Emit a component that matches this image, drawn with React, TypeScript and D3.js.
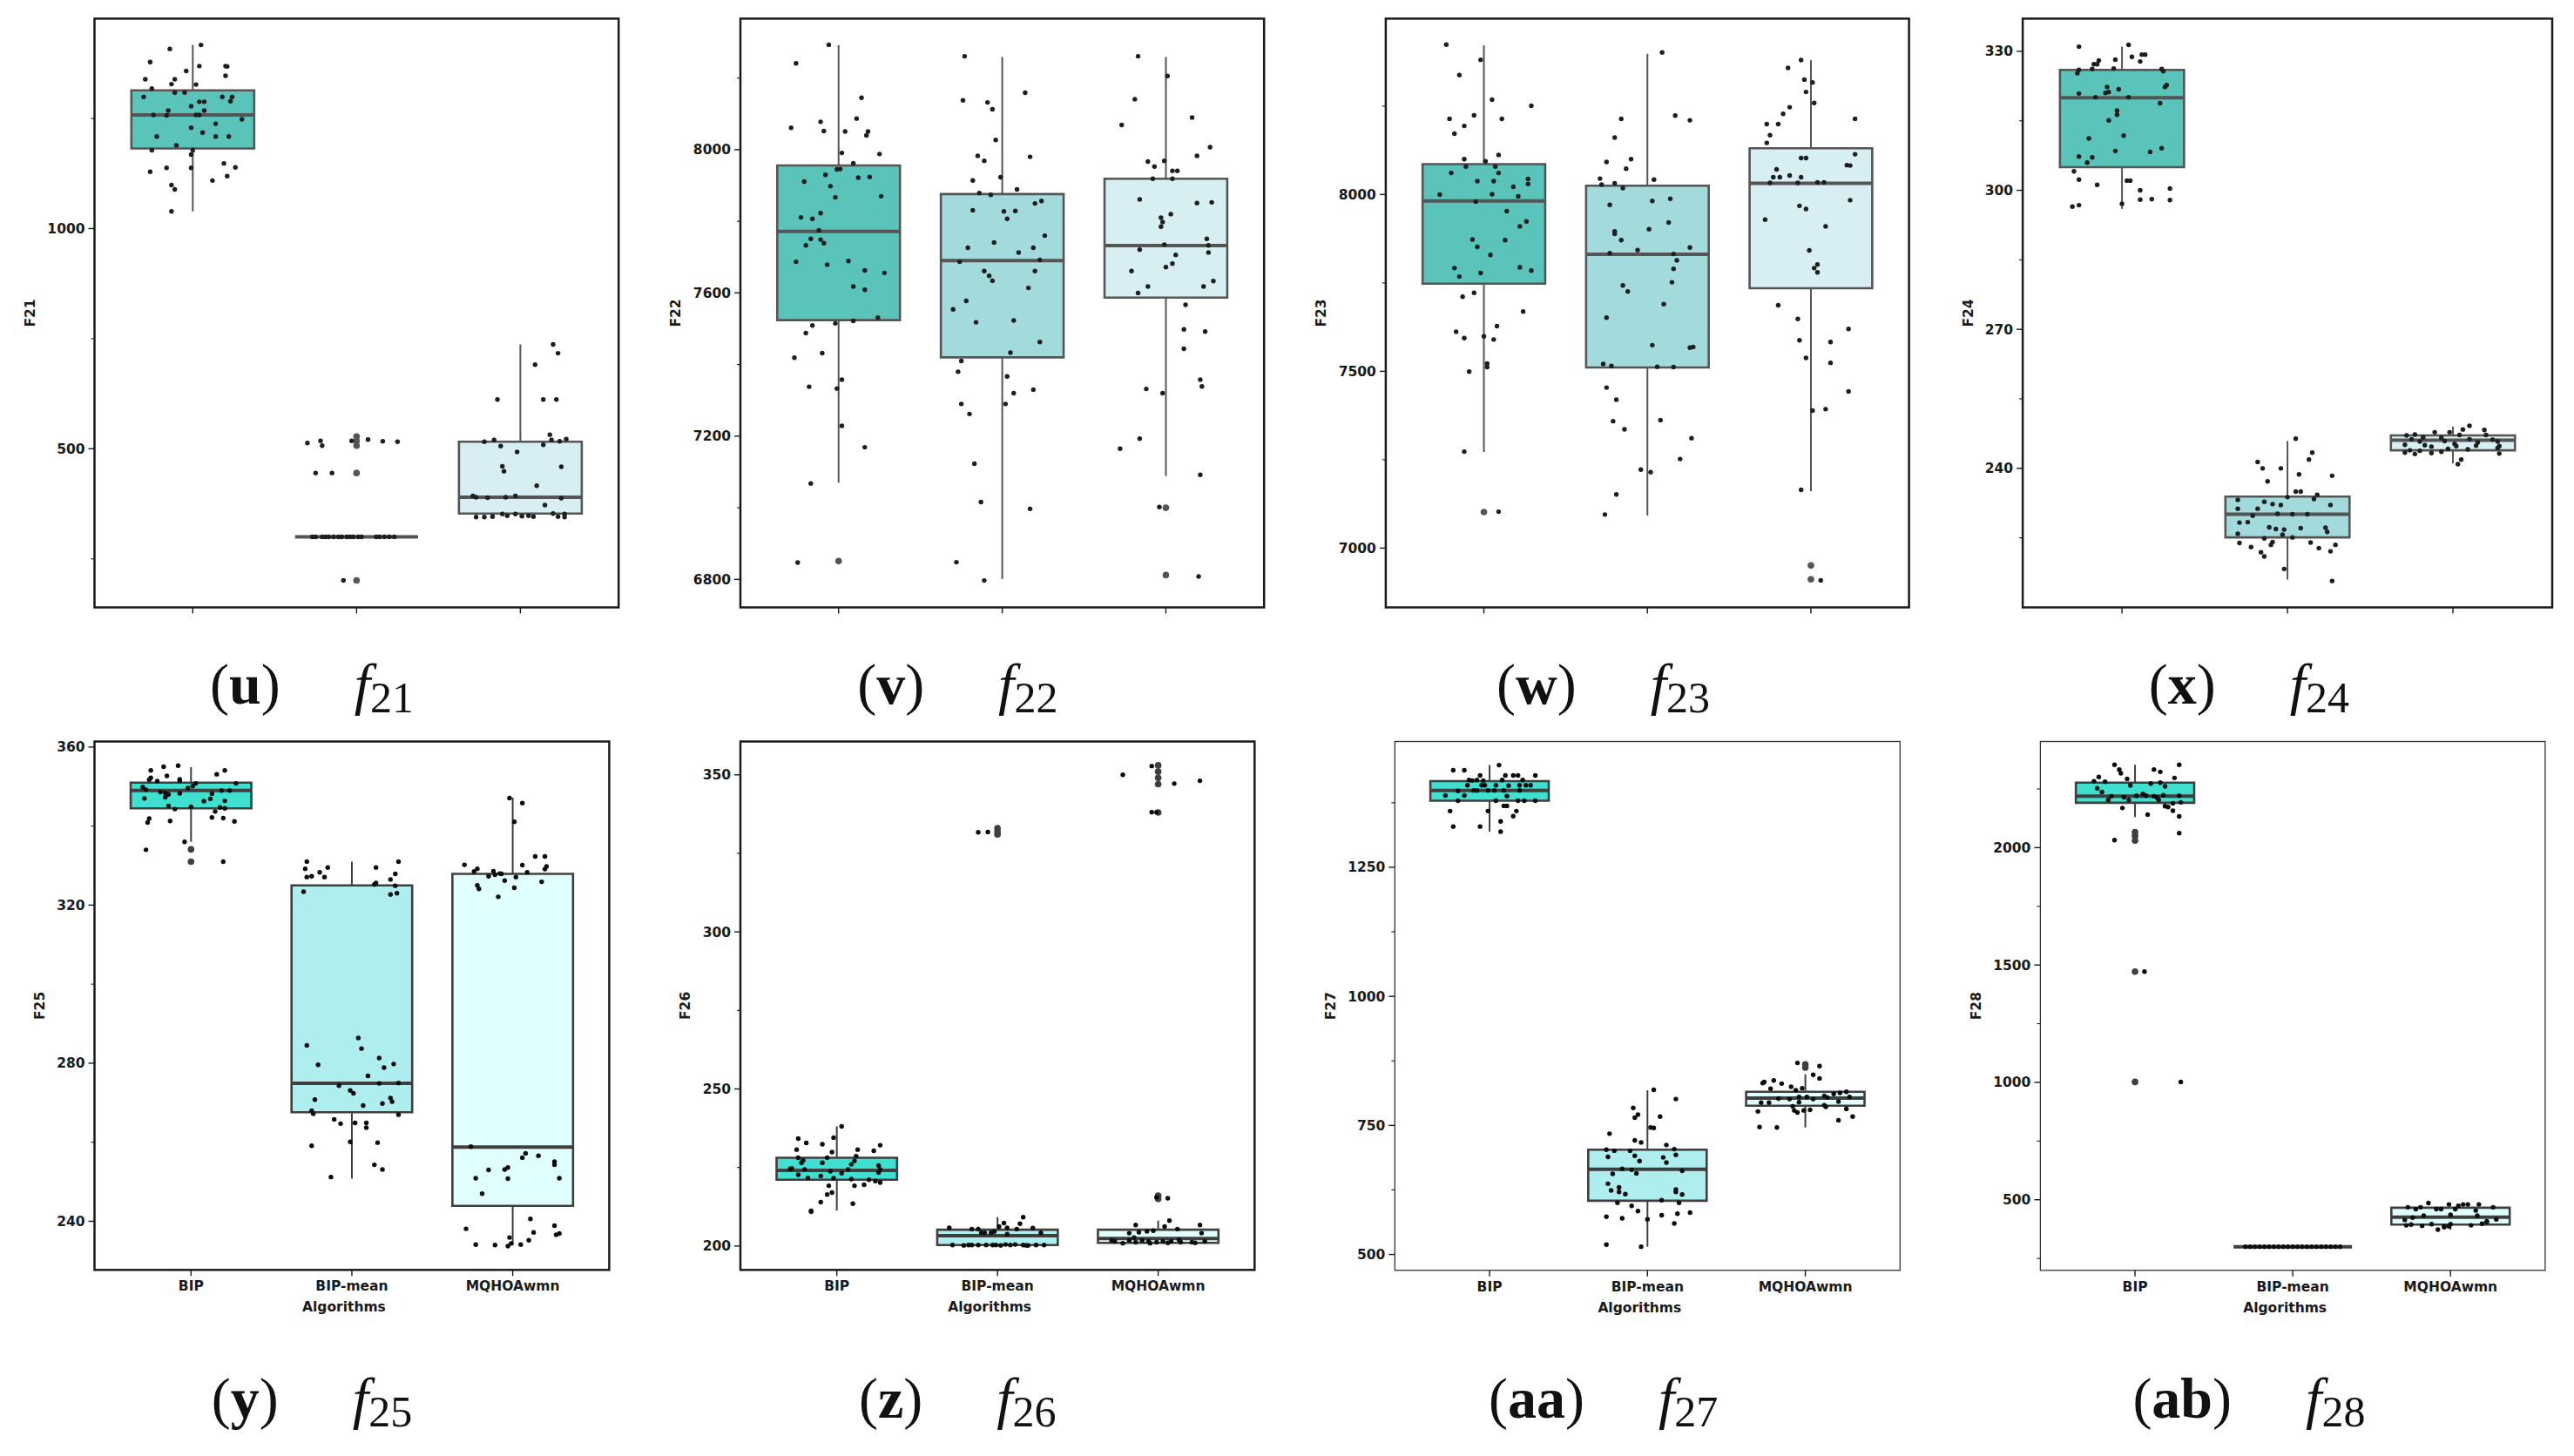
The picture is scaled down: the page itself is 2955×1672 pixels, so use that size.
import React from 'react';
import * as d3 from 'd3';

type Pt = [number, number]; // [jitter in category units, value]

const CATEGORIES = ['BIP', 'BIP-mean', 'MQHOAwmn'];

// ---------- f21 ----------
const f21_BIP: Pt[] = [[0.05,1417],[-0.14,1408],[-0.26,1378],[0.04,1369],[0.2,1369],[0.21,1368],[-0.04,1358],[0.2,1347],[-0.29,1339],[-0.11,1339],[-0.13,1328],[0.02,1327],[-0.25,1318],[-0.11,1309],[-0.05,1309],[-0.3,1299],[0.18,1299],[0.24,1299],[0.23,1289],[0.04,1288],[0.07,1288],[-0.01,1278],[0.07,1268],[-0.15,1268],[-0.24,1258],[-0.16,1257],[0.02,1258],[0.04,1258],[0.3,1248],[0.14,1238],[-0.01,1229],[0.06,1218],[-0.22,1209],[0.14,1209],[0.22,1209],[-0.1,1189],[-0.25,1178],[0,1178],[-0.01,1168],[0.19,1148],[-0.16,1138],[-0.01,1138],[0.26,1139],[-0.26,1129],[0.21,1119],[0.12,1109],[-0.13,1099],[-0.11,1089],[-0.13,1039]];
const f21_MEAN: Pt[] = [[-0.3,513],[-0.22,518],[-0.21,507],[-0.03,518],[0.07,521],[0.16,517],[0.25,516],[-0.25,445],[-0.15,445],[-0.08,201],[-0.27,300],[-0.25,300],[-0.21,300],[-0.19,300],[-0.17,300],[-0.14,300],[-0.11,300],[-0.09,300],[-0.06,300],[-0.04,300],[-0.02,300],[0.01,300],[0.03,300],[0.12,300],[0.14,300],[0.17,300],[0.2,300],[0.23,300]];
const f21_MQ: Pt[] = [[0.2,737],[0.23,717],[0.09,691],[-0.14,612],[0.14,612],[0.22,612],[-0.22,516],[-0.16,520],[-0.12,506],[0.18,532],[0.19,520],[0.24,517],[0.28,522],[0.14,509],[-0.02,493],[-0.11,460],[-0.1,449],[0.25,459],[0.1,416],[-0.29,393],[-0.27,390],[-0.2,389],[-0.09,390],[-0.03,393],[0.25,388],[0.15,372],[-0.27,345],[-0.22,345],[-0.17,346],[-0.11,352],[-0.08,348],[-0.03,352],[0.01,347],[0.05,348],[0.08,346],[0.2,353],[0.23,346],[0.27,352],[0.27,345]];
const f21_box = [[1039,1182,1258,1314,1417],[300,300,300,300,300],[345,353,390,516,737]];
const f21_fliers = [[], [528,518,507,445,201], []];
const f21_domain = [139.8, 1476.7];
const f21_major = [500, 1000];
const f21_minor = [250, 750, 1250];

// ---------- f22 ----------
const f22_BIP: Pt[] = [[-0.06,8293],[-0.26,8241],[0.14,8145],[-0.29,8061],[-0.11,8078],[0.11,8087],[-0.09,8052],[0.04,8051],[0.18,8051],[0.17,8040],[0.02,7991],[0.25,7988],[-0.01,7945],[0.01,7946],[0.09,7962],[-0.21,7911],[-0.08,7930],[0.12,7922],[0.19,7924],[-0.05,7898],[-0.02,7867],[0.26,7870],[-0.23,7811],[-0.16,7807],[-0.11,7823],[-0.12,7775],[-0.2,7733],[-0.17,7751],[-0.11,7749],[-0.09,7739],[-0.26,7687],[-0.07,7679],[0.06,7689],[0.16,7663],[0.28,7656],[0.09,7618],[0.16,7609],[0.24,7531],[-0.02,7515],[0.09,7522],[-0.16,7509],[-0.2,7488],[-0.1,7432],[-0.27,7419],[-0.18,7338],[0.02,7358],[-0.01,7333],[0.02,7229],[0.16,7169],[-0.17,7068],[-0.25,6847]];
const f22_MEAN: Pt[] = [[-0.23,8261],[-0.24,8138],[-0.09,8132],[-0.06,8113],[0.14,8159],[-0.04,8027],[-0.15,7983],[-0.11,7969],[0.17,7980],[-0.01,7923],[-0.18,7914],[0.09,7889],[-0.14,7879],[-0.07,7874],[-0.18,7831],[0.01,7828],[0.08,7829],[0.2,7850],[0.24,7857],[0.03,7807],[-0.05,7741],[-0.21,7726],[0.19,7726],[0.26,7760],[0.1,7713],[-0.26,7687],[0.23,7692],[-0.11,7661],[-0.08,7648],[-0.06,7634],[0.2,7661],[0.16,7614],[-0.22,7578],[-0.3,7554],[-0.16,7518],[0.07,7523],[0.23,7463],[0.05,7433],[-0.25,7410],[-0.27,7380],[0.03,7367],[-0.25,7290],[0.02,7290],[0.07,7320],[0.19,7330],[-0.2,7262],[-0.17,7123],[-0.13,7016],[0.17,6997],[-0.28,6848],[-0.11,6797]];
const f22_MQ: Pt[] = [[-0.17,8261],[0.01,8206],[-0.19,8141],[0.16,8090],[-0.27,8069],[0.27,8007],[-0.01,7969],[-0.11,7967],[-0.07,7953],[0.04,7941],[0.07,7941],[-0.08,7919],[0.04,7919],[0.19,7983],[-0.16,7861],[0.19,7851],[0.28,7853],[-0.03,7810],[0.03,7820],[-0.02,7798],[-0.03,7785],[0.25,7751],[-0.01,7735],[0.26,7733],[0.26,7713],[-0.16,7721],[0.06,7706],[0.04,7682],[0,7672],[-0.21,7661],[-0.11,7618],[-0.17,7600],[0.23,7618],[0.29,7633],[0.12,7567],[0.11,7498],[0.24,7492],[0.11,7444],[0.21,7358],[-0.12,7332],[0.22,7339],[-0.02,7320],[-0.16,7193],[-0.28,7165],[0.21,7092],[-0.04,7002],[0.2,6808]];
const f22_box = [[7070,7524,7772,7956,8292],[6801,7420,7690,7876,8259],[7089,7587,7732,7919,8259]];
const f22_fliers = [[6851], [], [7000,6812]];
const f22_domain = [6721.8, 8366];
const f22_major = [6800, 7200, 7600, 8000];
const f22_minor = [7000, 7400, 7800, 8200];

// ---------- f23 ----------
const f23_BIP: Pt[] = [[-0.23,8424],[-0.02,8381],[-0.15,8338],[0.05,8268],[0.29,8251],[-0.21,8214],[-0.06,8224],[0.11,8214],[-0.12,8194],[-0.18,8172],[0.09,8112],[-0.12,8100],[0.01,8094],[-0.11,8079],[0.07,8079],[-0.2,8061],[0.09,8061],[-0.04,8038],[0.06,8038],[0.27,8044],[0.27,8030],[0.18,8022],[0.05,8001],[-0.27,8000],[0.21,7995],[-0.05,7980],[0.14,7953],[0.26,7924],[0.22,7910],[-0.07,7873],[0.13,7871],[-0.04,7852],[0.04,7829],[-0.18,7792],[0.22,7794],[0.29,7785],[-0.02,7778],[-0.15,7768],[-0.06,7722],[-0.13,7711],[0.24,7669],[-0.17,7612],[0.08,7628],[-0.12,7594],[0,7599],[0.06,7590],[0.02,7522],[0.02,7512],[-0.09,7499],[-0.12,7273],[0.09,7103]];
const f23_MEAN: Pt[] = [[0.09,8402],[-0.16,8214],[0.17,8223],[0.26,8210],[-0.2,8161],[-0.1,8100],[-0.25,8092],[-0.13,8073],[-0.29,8045],[0.04,8042],[-0.28,8028],[-0.2,8032],[-0.15,8018],[0.03,7982],[0.14,7988],[-0.23,7971],[0.13,7921],[0.01,7902],[-0.2,7896],[-0.2,7889],[-0.16,7871],[-0.06,7843],[0.26,7850],[-0.23,7834],[0.16,7832],[0.18,7814],[0.16,7790],[0.15,7752],[-0.15,7743],[-0.12,7726],[0.1,7690],[-0.25,7652],[0.03,7574],[0.26,7567],[0.28,7569],[-0.27,7521],[-0.22,7515],[0.06,7513],[0.16,7512],[-0.25,7454],[-0.19,7420],[-0.21,7359],[-0.14,7336],[0.08,7362],[0.27,7311],[-0.04,7222],[0.02,7215],[0.2,7252],[-0.19,7152],[-0.26,7095]];
const f23_MQ: Pt[] = [[-0.06,8380],[-0.14,8358],[-0.04,8325],[0.01,8317],[-0.03,8290],[0.02,8259],[-0.13,8247],[-0.17,8228],[0.27,8214],[-0.27,8199],[-0.2,8199],[-0.25,8168],[-0.27,8146],[0.27,8114],[-0.06,8103],[-0.03,8103],[0.22,8083],[0.24,8082],[-0.21,8071],[-0.23,8049],[-0.19,8049],[-0.13,8054],[-0.06,8049],[-0.25,8033],[-0.08,8033],[0.04,8034],[0.08,8034],[0.24,7984],[-0.07,7968],[-0.03,7959],[-0.28,7929],[0.09,7910],[-0.01,7842],[0.04,7802],[0.02,7792],[0.04,7780],[-0.2,7687],[-0.08,7648],[0.23,7620],[-0.07,7588],[0.12,7583],[0.12,7524],[-0.03,7538],[0.23,7443],[0.01,7389],[0.09,7393],[-0.06,7165],[0.06,6909]];
const f23_box = [[7272,7748,7982,8086,8422],[7092,7511,7831,8025,8398],[7161,7735,8032,8131,8380]];
const f23_fliers = [[7102], [], [6951,6912]];
const f23_domain = [6832.4, 8497.4];
const f23_major = [7000, 7500, 8000];
const f23_minor = [7250, 7750, 8250];

// ---------- f24 ----------
const f24_BIP: Pt[] = [[-0.26,331.0],[0.04,331.4],[0.06,328.8],[0.12,329.3],[0.14,329.3],[0.11,327.8],[-0.14,328.0],[-0.04,328.2],[-0.17,327.2],[-0.15,327.2],[-0.18,326.2],[-0.05,326.3],[0.24,326.2],[0.25,325.7],[-0.26,326.0],[-0.27,325.3],[-0.09,322.3],[-0.02,321.8],[0.27,322.7],[0.26,322.3],[-0.1,321.0],[-0.08,321.2],[-0.26,320.9],[-0.16,320.1],[0.04,320.1],[0.23,318.8],[-0.03,317.2],[-0.03,316.3],[-0.08,315.1],[-0.2,311.2],[0.01,311.8],[0.24,309.1],[-0.04,308.5],[0.17,308.3],[-0.26,307.3],[-0.18,307.1],[-0.21,306.0],[-0.29,304.1],[-0.26,302.3],[0.03,302.1],[0.05,302.1],[-0.15,301.2],[0.11,300.0],[0.29,300.4],[0.11,298.0],[0.18,298.1],[0.29,297.9],[0,297.1],[-0.26,296.8],[-0.3,296.5]];
const f24_MEAN: Pt[] = [[0.05,246.4],[0.15,243.4],[0.13,241.9],[-0.18,241.4],[-0.15,240.0],[-0.04,240.0],[0.07,238.7],[0.27,238.4],[-0.12,237.2],[0.05,235.0],[0.08,235.0],[0.18,234.3],[0,233.8],[0.16,233.4],[-0.3,233.2],[-0.14,232.8],[-0.09,232.3],[-0.04,232.1],[0.26,232.1],[-0.3,231.3],[-0.18,231.3],[-0.21,229.8],[-0.06,230.2],[0.03,230.1],[0.12,230.1],[-0.29,228.3],[-0.24,228.4],[-0.11,227.3],[-0.07,226.9],[-0.02,226.8],[0.08,227.1],[0.23,227.2],[0.24,226.3],[-0.3,225.9],[-0.03,225.7],[-0.14,224.9],[0.03,225.1],[-0.09,224.1],[-0.29,223.9],[0.14,224.0],[-0.1,223.5],[0.29,223.5],[-0.22,223.0],[0.19,222.8],[0.26,222.1],[-0.16,221.9],[-0.14,221.0],[-0.02,218.3],[0.27,215.7]];
const f24_MQ: Pt[] = [[0.1,249.2],[0.06,248.4],[0.19,248.3],[-0.11,247.8],[-0.02,247.8],[-0.23,247.3],[-0.28,247.1],[0.04,247.2],[0.2,247.2],[-0.18,246.7],[-0.07,246.6],[0.1,246.3],[-0.25,246.3],[-0.05,245.9],[0.24,246.2],[0.27,245.8],[-0.2,245.8],[0.15,245.6],[0.01,245.3],[-0.29,245.1],[-0.17,245.0],[0.14,244.9],[0.02,244.8],[-0.13,244.7],[0.28,244.8],[0.27,244.4],[-0.03,244.2],[-0.26,243.9],[0.09,244.1],[-0.2,243.8],[-0.07,243.6],[-0.29,243.4],[-0.13,243.3],[-0.23,243.1],[0.28,243.2],[0.05,241.9],[0.03,240.9]];
const f24_box = [[296,305,320,326,331],[216,225.1,230.1,233.9,245.9],[241.1,243.9,246.1,247.1,249.0]];
const f24_fliers = [[], [], []];
const f24_domain = [210.0, 337.05];
const f24_major = [240, 270, 300, 330];
const f24_minor = [225, 255, 285, 315];

// ---------- f25 ----------
const f25_BIP: Pt[] = [[-0.08,355.3],[-0.17,355.0],[-0.25,354.1],[0.21,354.1],[0.16,353.1],[-0.15,352.7],[-0.25,352.2],[-0.26,351.7],[-0.07,351.8],[-0.07,351.5],[-0.21,351.4],[0.03,350.8],[0.28,350.8],[-0.3,349.9],[0.01,350.1],[-0.02,349.6],[-0.28,349.2],[0.19,349.0],[0.24,349.0],[0.13,348.2],[-0.16,348.4],[-0.14,348.0],[-0.19,348.6],[-0.07,348.3],[0.08,346.3],[-0.29,347.0],[0.12,346.9],[0.21,346.4],[-0.16,347.3],[-0.14,345.1],[-0.1,344.3],[0,344.9],[0.18,344.7],[0.21,344.5],[0.15,343.7],[-0.26,341.9],[-0.27,340.9],[-0.13,341.3],[0.13,342.2],[0.2,342.0],[0.27,341.2],[-0.04,336.0],[-0.28,334.0],[0.2,331.0]];
const f25_MEAN: Pt[] = [[-0.28,331.0],[0.29,331.0],[-0.15,329.5],[0.15,329.5],[-0.29,329.2],[-0.2,328.3],[0.27,327.9],[-0.28,327.1],[-0.25,327.3],[-0.17,327.1],[0.24,326.5],[0.15,325.6],[0.14,325.2],[0.27,324.9],[-0.3,323.4],[0.24,322.7],[0.28,323.0],[0.04,286.4],[-0.28,284.5],[0.06,283.7],[0.17,281.3],[-0.21,279.6],[0.26,279.8],[0.2,278.9],[0.1,276.8],[0.17,274.9],[0.29,275.0],[-0.08,274.3],[-0.01,273.1],[0.01,272.4],[-0.23,270.8],[0.07,269.3],[0.24,271.2],[0.25,270.3],[0.19,269.8],[-0.25,268.0],[-0.24,267.2],[0.29,267.0],[-0.11,265.8],[-0.07,264.7],[0.02,264.9],[0.09,264.9],[0.09,263.7],[-0.01,260.1],[-0.25,259.1],[0.16,259.9],[0.14,254.3],[0.19,253.1],[-0.13,251.2]];
const f25_MQ: Pt[] = [[-0.02,347.1],[0.06,345.8],[0.01,341.1],[0.14,332.3],[0.2,332.3],[-0.3,330.2],[0.06,330.1],[0.21,329.8],[-0.22,329.2],[-0.12,328.6],[-0.08,328.0],[0.09,328.3],[0.2,329.1],[-0.24,328.5],[-0.15,327.3],[-0.11,327.7],[-0.07,327.9],[0.02,327.1],[-0.05,326.2],[0.18,325.9],[-0.22,325.0],[0.01,324.4],[-0.21,324.1],[-0.09,322.1],[-0.26,258.9],[0.08,257.2],[0.06,256.1],[0.16,256.6],[0.26,255.1],[0.26,254.3],[-0.03,253.6],[-0.05,253.1],[-0.15,253.0],[-0.23,250.9],[-0.03,250.8],[0.29,250.9],[-0.19,247.0],[0.11,240.6],[-0.29,238.1],[0.26,238.9],[0.13,237.2],[0.29,236.9],[0.27,236.6],[-0.02,235.9],[0.1,235.2],[-0.23,234.1],[-0.11,234.0],[-0.03,233.7],[0.05,234.1],[-0.01,234.4]];
const f25_box = [[336,344.5,349,351,354.9],[250.8,267.6,274.9,325,331],[234,243.9,258.8,327.9,347.2]];
const f25_fliers = [[334.1,331], [], []];
const f25_domain = [227.7, 361.4];
const f25_major = [240, 280, 320, 360];
const f25_minor = [260, 300, 340];

// ---------- f26 ----------
const f26_BIP: Pt[] = [[0.03,238.1],[-0.24,234.2],[-0.02,234.5],[-0.19,232.8],[0.27,232.1],[-0.09,232.4],[-0.25,230.7],[0.13,230.7],[0.23,230.3],[-0.03,229.9],[0.12,228.6],[-0.24,228.1],[-0.21,227.3],[-0.06,228.1],[0.11,227.1],[-0.22,226.5],[-0.09,226.5],[0.09,226.0],[0.26,225.6],[-0.28,224.7],[-0.29,224.6],[-0.2,224.4],[0.07,224.4],[0.27,224.4],[-0.04,223.8],[0.26,223.4],[0.03,223.2],[-0.24,222.7],[-0.1,222.3],[-0.18,221.7],[-0.02,221.6],[0.09,221.3],[0.2,221.1],[0.24,220.7],[0.27,220.2],[0.17,219.5],[0.11,219.2],[-0.05,219.2],[-0.03,217.0],[-0.06,216.4],[-0.1,214.0],[0.1,213.5],[-0.16,211.2],[-0.16,210.9]];
const f26_MEAN: Pt[] = [[-0.12,331.7],[-0.06,331.8],[-0.3,205.8],[-0.16,205.4],[-0.12,205.4],[0.04,207.3],[0.16,209.2],[0.14,207.1],[0.01,206.2],[0.12,205.4],[0.22,205.7],[0.06,205.8],[-0.08,204.2],[-0.1,204.2],[-0.04,204.2],[-0.02,204.6],[0.06,203.8],[0.27,204.2],[-0.28,200.3],[-0.21,200.2],[-0.18,200.3],[-0.16,200.3],[-0.12,200.3],[-0.07,200.3],[-0.03,200.3],[-0.01,200.3],[0.02,200.2],[0.05,200.5],[0.08,200.3],[0.11,200.5],[0.16,200.3],[0.18,200.2],[0.19,200.2],[0.24,200.3],[0.29,200.3]];
const f26_MQ: Pt[] = [[-0.22,350.0],[-0.04,352.8],[0.1,347.2],[0.26,348.1],[-0.04,338.1],[-0.01,338.1],[0.06,215.2],[-0.01,215.5],[0.07,208.1],[-0.14,206.7],[0.26,206.7],[0.04,206.2],[0.12,205.4],[-0.18,204.1],[-0.12,204.4],[-0.07,204.7],[-0.03,204.9],[0.27,204.1],[-0.15,202.7],[-0.27,201.5],[-0.22,200.9],[-0.18,201.8],[-0.1,201.8],[-0.06,201.5],[0.03,201.5],[0.08,201.5],[0.14,201.2],[0.21,201.2],[0.29,201.5],[-0.29,201.8],[-0.01,201.2],[-0.14,201.2],[0.13,202.0],[0.23,201.0],[0.06,201.0],[-0.05,200.9]];
const f26_box = [[211.3,221.1,224.1,228.1,238.1],[200.3,200.3,203.3,205.2,209.2],[200.9,201,202.4,205.2,208.1]];
const f26_fliers = [[], [333,332,331], [353,351,349,347,338,216,215]];
const f26_domain = [192.4, 360.6];
const f26_major = [200, 250, 300, 350];
const f26_minor = [225, 275, 325];

// ---------- f27 ----------
const f27_BIP: Pt[] = [[0.06,1448],[-0.23,1438],[-0.16,1438],[-0.06,1428],[0.1,1428],[0.15,1428],[0.18,1428],[0.29,1428],[-0.13,1419],[-0.04,1418],[0.08,1419],[0.21,1419],[-0.11,1418],[-0.08,1419],[-0.14,1409],[-0.05,1409],[-0.03,1409],[0.04,1409],[0.12,1408],[0.19,1409],[0.23,1409],[0.26,1409],[-0.2,1398],[-0.1,1399],[-0.08,1399],[-0.01,1399],[0.03,1399],[0.09,1399],[0.19,1399],[-0.28,1389],[-0.16,1389],[0.11,1388],[-0.2,1379],[0.04,1379],[0.18,1379],[0.22,1379],[0.29,1379],[0.09,1369],[0.11,1369],[-0.25,1359],[-0.01,1359],[0.17,1359],[0.15,1349],[0.07,1339],[-0.23,1329],[-0.06,1329],[0.07,1319]];
const f27_MEAN: Pt[] = [[0.04,819],[0.18,801],[-0.09,784],[-0.06,771],[-0.08,765],[0.08,767],[0.02,746],[0.04,745],[-0.24,734],[-0.08,721],[-0.04,717],[0.12,712],[-0.26,703],[-0.21,701],[-0.11,701],[0.17,704],[-0.25,689],[-0.08,691],[0.1,688],[0.18,693],[-0.05,681],[0.12,678],[-0.16,666],[-0.1,664],[-0.07,657],[0.22,662],[-0.22,656],[-0.25,637],[-0.18,630],[-0.23,624],[0.18,626],[-0.18,621],[-0.14,617],[0.18,621],[0.22,616],[0.09,605],[-0.19,600],[0.2,600],[-0.1,594],[-0.06,584],[0,568],[0.19,579],[0.27,581],[-0.26,573],[-0.16,570],[0.09,576],[0.17,560],[-0.26,519],[-0.04,515]];
const f27_MQ: Pt[] = [[-0.05,871],[0.09,865],[0.05,848],[0.09,841],[-0.27,832],[-0.2,837],[-0.26,834],[-0.15,831],[-0.09,825],[-0.02,822],[-0.22,821],[-0.06,818],[0.22,813],[0.26,815],[0.18,811],[0.12,807],[0.14,804],[0.28,805],[0.01,805],[-0.1,801],[-0.04,805],[0.05,801],[-0.28,794],[-0.23,794],[-0.17,802],[0.21,796],[0.12,789],[-0.04,795],[0.13,786],[-0.08,787],[-0.07,779],[0.26,782],[-0.01,779],[0.03,780],[-0.05,775],[-0.3,777],[0.3,767],[0.21,760],[-0.29,747],[-0.18,746]];
const f27_box = [[1319,1379,1399,1417,1448],[515,604,665,703,818],[746,788,803,815,849]];
const f27_fliers = [[], [], [868,862]];
const f27_domain = [469.2, 1493.7];
const f27_major = [500, 750, 1000, 1250];
const f27_minor = [625, 875, 1125, 1375];

// ---------- f28 ----------
const f28_BIP: Pt[] = [[-0.13,2353],[0.28,2353],[-0.1,2333],[0.12,2333],[0.16,2323],[-0.09,2317],[-0.23,2301],[-0.05,2293],[0.25,2297],[-0.26,2283],[-0.19,2281],[0.1,2273],[0.16,2277],[-0.03,2265],[0.19,2261],[-0.24,2253],[-0.21,2237],[-0.15,2219],[0.01,2221],[0.05,2229],[0.07,2221],[0.12,2219],[0.14,2213],[0.28,2221],[-0.17,2203],[-0.07,2215],[-0.04,2203],[0.15,2203],[0.18,2223],[0.24,2189],[0.29,2193],[0.19,2177],[0.21,2173],[-0.08,2169],[0.24,2157],[0.08,2141],[0.28,2133],[-0.13,2032],[0.28,2062],[0.06,1472],[0.29,1002]];
const f28_MEAN: Pt[] = [[-0.3,300],[-0.27,300],[-0.24,300],[-0.21,300],[-0.18,300],[-0.15,300],[-0.12,300],[-0.09,300],[-0.06,300],[-0.03,300],[0.0,300],[0.03,300],[0.06,300],[0.09,300],[0.12,300],[0.15,300],[0.18,300],[0.21,300],[0.24,300],[0.27,300],[0.3,300]];
const f28_MQ: Pt[] = [[-0.14,486],[-0.27,468],[-0.22,460],[-0.19,468],[-0.09,460],[-0.01,480],[0.05,474],[0.08,480],[0.11,480],[0.18,480],[0.27,468],[-0.06,460],[0.03,460],[0.16,454],[-0.17,432],[0,436],[-0.24,424],[-0.29,414],[0.29,416],[-0.28,391],[-0.25,394],[-0.18,389],[-0.12,396],[-0.04,387],[0,396],[0.13,391],[0.2,398],[0.23,404],[-0.08,373],[-0.04,383],[-0.01,387],[0.23,408],[0.17,432]];
const f28_box = [[2130,2191,2219,2277,2353],[300,300,300,300,300],[372,394,426,466,470]];
const f28_fliers = [[2066,2050,2030,1472,1002], [], []];
const f28_domain = [199.2, 2452.2];
const f28_major = [500, 1000, 1500, 2000];
const f28_minor = [250, 750, 1250, 1750, 2250];

// ---------- styles ----------
const ROW1_FILL = ['#5bc4ba', '#a3dbdc', '#d7eef2'];
const ROW2_FILL = ['#40e0d0', '#afeeee', '#e0ffff'];

type Panel = {
  name: string; letter: string; sub: string;
  points: Pt[][]; box: number[][]; fliers: number[][];
  domain: number[]; major: number[]; minor: number[];
  frame: [number, number, number, number]; row: number; thinFrame?: boolean;
};

const PANELS: Panel[] = [
  { name: 'F21', letter: 'u', sub: '21', points: [f21_BIP, f21_MEAN, f21_MQ], box: f21_box, fliers: f21_fliers, domain: f21_domain, major: f21_major, minor: f21_minor, frame: [108.5, 710.2, 21.4, 697.5], row: 0 },
  { name: 'F22', letter: 'v', sub: '22', points: [f22_BIP, f22_MEAN, f22_MQ], box: f22_box, fliers: f22_fliers, domain: f22_domain, major: f22_major, minor: f22_minor, frame: [850, 1451.2, 21.4, 697.5], row: 0 },
  { name: 'F23', letter: 'w', sub: '23', points: [f23_BIP, f23_MEAN, f23_MQ], box: f23_box, fliers: f23_fliers, domain: f23_domain, major: f23_major, minor: f23_minor, frame: [1590.9, 2191.6, 21.4, 697.5], row: 0 },
  { name: 'F24', letter: 'x', sub: '24', points: [f24_BIP, f24_MEAN, f24_MQ], box: f24_box, fliers: f24_fliers, domain: f24_domain, major: f24_major, minor: f24_minor, frame: [2322.1, 2930, 21.4, 697.5], row: 0 },
  { name: 'F25', letter: 'y', sub: '25', points: [f25_BIP, f25_MEAN, f25_MQ], box: f25_box, fliers: f25_fliers, domain: f25_domain, major: f25_major, minor: f25_minor, frame: [108.5, 699.4, 851.5, 1458.3], row: 1 },
  { name: 'F26', letter: 'z', sub: '26', points: [f26_BIP, f26_MEAN, f26_MQ], box: f26_box, fliers: f26_fliers, domain: f26_domain, major: f26_major, minor: f26_minor, frame: [850, 1440.3, 851.5, 1458.3], row: 1 },
  { name: 'F27', letter: 'aa', sub: '27', points: [f27_BIP, f27_MEAN, f27_MQ], box: f27_box, fliers: f27_fliers, domain: f27_domain, major: f27_major, minor: f27_minor, frame: [1601.3, 2181.3, 851.5, 1458.8], row: 1, thinFrame: true },
  { name: 'F28', letter: 'ab', sub: '28', points: [f28_BIP, f28_MEAN, f28_MQ], box: f28_box, fliers: f28_fliers, domain: f28_domain, major: f28_major, minor: f28_minor, frame: [2342.4, 2921.9, 851.5, 1458.8], row: 1, thinFrame: true },
];

const FONT = '"DejaVu Sans", sans-serif';

function PanelView({ p, idx }: { p: Panel; idx: number }) {
  const [x0, x1, y0, y1] = p.frame;
  const x = d3.scaleLinear().domain([-0.6, 2.6]).range([x0, x1]);
  const y = d3.scaleLinear().domain(p.domain).range([y1, y0]);
  const fills = p.row === 0 ? ROW1_FILL : ROW2_FILL;
  const edge = p.row === 0 ? '#555555' : '#3f3f3f';
  const dot = p.row === 0 ? '#1e1e1e' : '#0d0d0d';
  const halfW = 0.375;
  const labelW = Math.max(...p.major.map((t) => String(t).length));
  const yLabelX = x0 - (30 + labelW * 11);
  const colCenter = 358 + 741.3 * (idx % 4);
  const capBase = p.row === 0 ? 808 : 1628;
  return (
    <g>
      {/* boxes */}
      {p.box.map((b, i) => {
        const [lo, q1, med, q3, hi] = b;
        const bx0 = x(i - halfW), bx1 = x(i + halfW), cx = x(i);
        return (
          <g key={'b' + i}>
            {hi > q3 && <line x1={cx} x2={cx} y1={y(q3)} y2={y(hi)} stroke={edge} strokeWidth={2} />}
            {lo < q1 && <line x1={cx} x2={cx} y1={y(q1)} y2={y(lo)} stroke={edge} strokeWidth={2} />}
            <path d={`M${bx0},${y(q3)}H${bx1}V${y(q1)}H${bx0}Z`} fill={fills[i]} stroke={edge} strokeWidth={2.6} />
            <line x1={bx0} x2={bx1} y1={y(med)} y2={y(med)} stroke={edge} strokeWidth={4} />
            {p.fliers[i].map((v, k) => (
              <circle key={k} cx={cx} cy={y(v)} r={3.8} fill={edge} />
            ))}
          </g>
        );
      })}
      {/* strip points */}
      {p.points.map((grp, i) =>
        grp.map(([j, v], k) => <circle key={i + '-' + k} cx={x(i + j)} cy={y(v)} r={2.7} fill={dot} />)
      )}
      {/* frame */}
      <rect x={x0} y={y0} width={x1 - x0} height={y1 - y0} fill="none" stroke={p.thinFrame ? '#333' : '#1a1a1a'} strokeWidth={p.thinFrame ? 1.3 : 2.5} />
      {/* y ticks */}
      {p.major.map((t) => (
        <g key={'M' + t}>
          <line x1={x0 - 7} x2={x0} y1={y(t)} y2={y(t)} stroke="#1a1a1a" strokeWidth={1.4} />
          <text x={x0 - 11} y={y(t)} dy="0.35em" textAnchor="end" fontFamily={FONT} fontWeight="bold" fontSize={15.5} fill="#1a1a1a">{t}</text>
        </g>
      ))}
      {p.minor.map((t) => (
        <line key={'m' + t} x1={x0 - 4} x2={x0} y1={y(t)} y2={y(t)} stroke="#1a1a1a" strokeWidth={1.1} />
      ))}
      {/* x ticks */}
      {CATEGORIES.map((c, i) => (
        <g key={'x' + c}>
          <line x1={x(i)} x2={x(i)} y1={y1} y2={y1 + 7} stroke="#1a1a1a" strokeWidth={1.4} />
          {p.row === 1 && (
            <text x={x(i)} y={y1 + 24} textAnchor="middle" fontFamily={FONT} fontWeight="bold" fontSize={15.5} fill="#1a1a1a">{c}</text>
          )}
        </g>
      ))}
      {p.row === 1 && (
        <text x={(x0 + x1) / 2 - 9} y={y1 + 48} textAnchor="middle" fontFamily={FONT} fontWeight="bold" fontSize={15.5} fill="#1a1a1a">Algorithms</text>
      )}
      {/* y label */}
      <text transform={`translate(${yLabelX},${(y0 + y1) / 2}) rotate(-90)`} textAnchor="middle" dy="0.35em" fontFamily={FONT} fontWeight="bold" fontSize={15.5} fill="#1a1a1a">{p.name}</text>
      {/* caption */}
      <text x={colCenter} y={capBase} textAnchor="middle" fontFamily='"Liberation Serif", "DejaVu Serif", serif' fontSize={66} fill="#111">
        <tspan>(</tspan>
        <tspan fontWeight="bold">{p.letter}</tspan>
        <tspan>)</tspan>
        <tspan dx={85} fontStyle="italic">f</tspan>
        <tspan fontSize={50} dy={10}>{p.sub}</tspan>
      </text>
    </g>
  );
}

export default function App() {
  return (
    <svg width={2955} height={1672} style={{ position: 'absolute', left: 0, top: 0, background: '#fff' }}>
      <rect x={0} y={0} width={2955} height={1672} fill="#fff" />
      {PANELS.map((p, i) => <PanelView key={p.name} p={p} idx={i} />)}
    </svg>
  );
}
